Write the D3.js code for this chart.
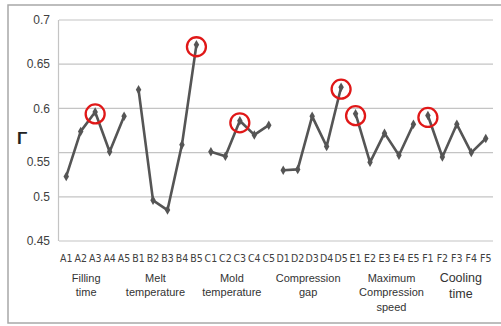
<!DOCTYPE html>
<html><head><meta charset="utf-8">
<script src="https://cdn.jsdelivr.net/npm/d3@7"></script>
<style>html,body{margin:0;padding:0;background:#fff;}svg{display:block;}</style>
</head><body>
<svg id="chart" width="501" height="326"></svg>
<script>
const categories = ["A1","A2","A3","A4","A5","B1","B2","B3","B4","B5","C1","C2","C3","C4","C5","D1","D2","D3","D4","D5","E1","E2","E3","E4","E5","F1","F2","F3","F4","F5"];
const values = [0.523,0.574,0.596,0.551,0.591, 0.621,0.496,0.485,0.559,0.672, 0.551,0.546,0.586,0.570,0.581, 0.530,0.531,0.591,0.557,0.624, 0.594,0.539,0.572,0.547,0.582, 0.592,0.545,0.582,0.550,0.566];
const groups = ["A","B","C","D","E","F"];
const groupLabels = [["Filling","time"],["Melt","temperature"],["Mold","temperature"],["Compression","gap"],["Maximum","Compression","speed"],["Cooling","time"]];
const highlighted = ["A3","B5","C3","D5","E1","F1"];
const yTicks = [0.45,0.5,0.55,0.6,0.65,0.7];
const yLabel = "Γ";

// styling / layout (not data)
const groupLabelDx = [-9,-12,-8,-4,7,4];
const groupLabelSize = [11,11,11,11,11,12.5];

const svg = d3.select("#chart");
const x = d3.scaleBand().domain(categories).range([59,493]).padding(0);
const y = d3.scaleLinear().domain([0.45,0.7]).range([241,20]);
const cx = c => x(c) + x.bandwidth()/2;

// outer frame
svg.append("rect").attr("x",8).attr("y",5).attr("width",500).attr("height",318)
  .attr("fill","none").attr("stroke","#a8a8a8").attr("stroke-width",1.5);

// gridlines
svg.append("g").selectAll("line").data(yTicks).join("line")
  .attr("x1",59).attr("x2",493).attr("y1",d=>y(d)).attr("y2",d=>y(d))
  .attr("stroke","#c4c4c4").attr("stroke-width",1.2);
svg.append("line").attr("x1",58.5).attr("x2",58.5).attr("y1",y(0.7)).attr("y2",y(0.45))
  .attr("stroke","#c4c4c4").attr("stroke-width",1.2);

// y tick labels
svg.append("g").selectAll("text").data(yTicks).join("text")
  .attr("x",50).attr("y",d=>y(d) + (d===0.55?9:0)).attr("dy","0.35em")
  .attr("text-anchor","end").attr("font-family","Liberation Sans, Arial, sans-serif")
  .attr("font-size",12).attr("fill","#404040").text(d=>d3.format("")(d));

// y label
svg.append("text").attr("x",17).attr("y",144).attr("font-family","Liberation Sans, Arial, sans-serif")
  .attr("font-size",17).attr("font-weight","bold").attr("fill","#222").text(yLabel);

// x tick labels
svg.append("g").selectAll("text").data(categories).join("text")
  .attr("x",d=>cx(d)).attr("y",258).attr("dy","0.35em").attr("text-anchor","middle")
  .attr("font-family","Liberation Sans Narrow, DejaVu Sans Condensed, Arial, sans-serif")
  .attr("font-size",10.5).attr("fill","#404040").text(d=>d);

// group labels
groups.forEach((g,i)=>{
  const mid = cx(g+"3") + groupLabelDx[i];
  const fs = groupLabelSize[i];
  const lh = fs>12 ? 16 : 14.5;
  const t = svg.append("text").attr("text-anchor","middle")
    .attr("font-family","Liberation Sans, Arial, sans-serif").attr("font-size",fs).attr("fill","#333");
  groupLabels[i].forEach((line,j)=>{
    t.append("tspan").attr("x",mid).attr("y",278 + j*lh).attr("dy","0.35em").text(line);
  });
});

// lines per group
const data = categories.map((c,i)=>({c, v:values[i], g:c[0]}));
const line = d3.line().x(d=>cx(d.c)).y(d=>y(d.v));
groups.forEach(g=>{
  svg.append("path").datum(data.filter(d=>d.g===g)).attr("d",line)
    .attr("fill","none").attr("stroke","#555").attr("stroke-width",2.6).attr("stroke-linejoin","round");
});
svg.append("g").selectAll("path").data(data).join("path")
  .attr("transform",d=>`translate(${cx(d.c)},${y(d.v)})`)
  .attr("d",d3.symbol(d3.symbolDiamond,26)).attr("fill","#555");

// highlight circles
svg.append("g").selectAll("ellipse").data(data.filter(d=>highlighted.includes(d.c))).join("ellipse")
  .attr("cx",d=>cx(d.c)).attr("cy",d=>y(d.v)+2).attr("rx",9.5).attr("ry",9.5)
  .attr("fill","none").attr("stroke","#e01818").attr("stroke-width",2.3);
</script>
</body></html>
